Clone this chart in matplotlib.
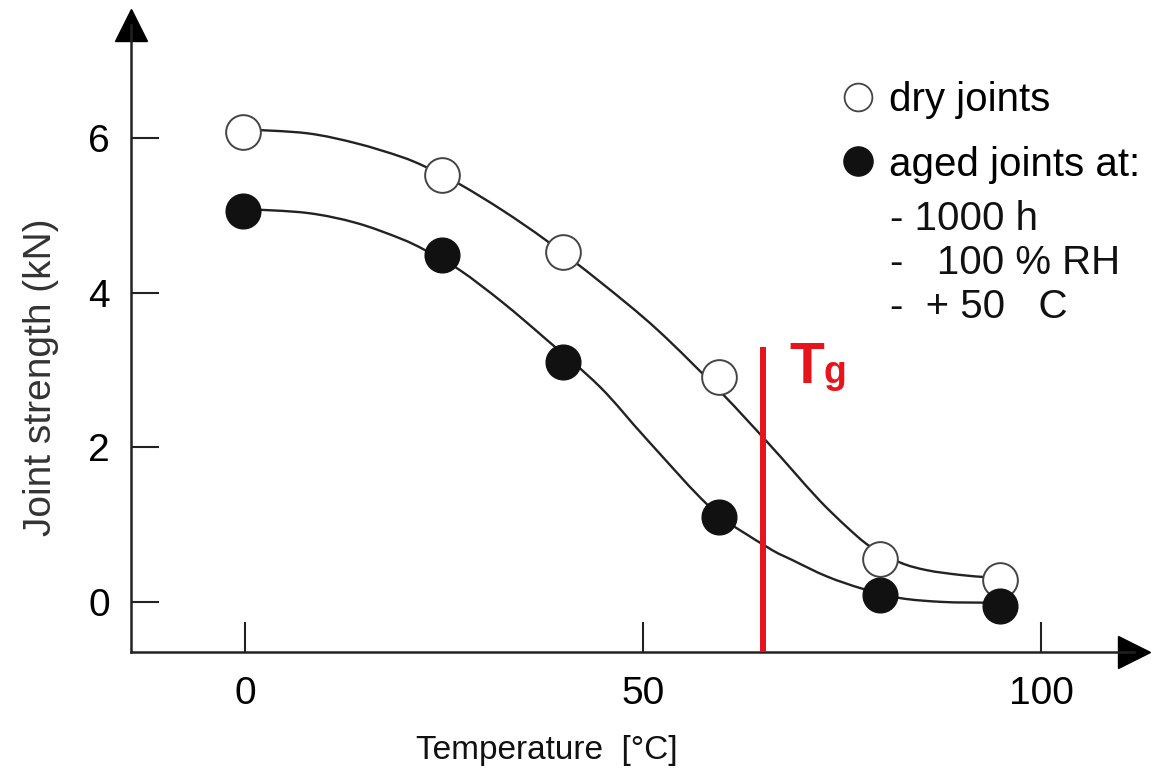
import matplotlib
matplotlib.use("Agg")
import numpy as np
import matplotlib.pyplot as plt
from matplotlib.lines import Line2D
from matplotlib.path import Path
from matplotlib.patches import PathPatch

plt.rcParams['font.family'] = ['Liberation Sans', 'DejaVu Sans']

# --- measured points ---
temp = [-0.3, 24.8, 40.0, 59.5, 79.8, 94.8]
dry_strength = [6.08, 5.52, 4.53, 2.91, 0.56, 0.28]
aged_strength = [5.05, 4.49, 3.10, 1.10, 0.09, -0.05]

# --- fitted curves ---
dry_curve_x = [0, 7.8, 14.0, 19.5, 22.6, 27.0, 32.4, 37.9, 44.6, 51.8, 59.7,
               65.5, 68.8, 72.2, 75.6, 78.5, 82.3, 85.7, 89.8, 93.2, 95.0]
dry_curve_y = [6.11, 6.06, 5.93, 5.76, 5.63, 5.40, 5.06, 4.67, 4.14, 3.52, 2.72,
               2.08, 1.70, 1.31, 0.97, 0.72, 0.51, 0.41, 0.35, 0.32, 0.31]
aged_curve_x = [0, 7.8, 14.0, 19.5, 22.6, 27.0, 32.4, 37.9, 44.6, 50.5, 58.8,
                65.6, 68.8, 73.1, 77.6, 82.3, 87.7, 93.2, 95.0]
aged_curve_y = [5.08, 5.03, 4.90, 4.70, 4.55, 4.29, 3.87, 3.39, 2.78, 2.10, 1.19,
                0.71, 0.54, 0.33, 0.17, 0.05, 0.00, -0.01, -0.02]

tg_temp = 65.1
tg_top = 3.3

x_ticks = [0, 50, 100]
y_ticks = [0, 2, 4, 6]

RED = '#e8141c'
INK = '#222222'


def smooth_path(xs, ys):
    # draw a smooth line through the read points (Catmull-Rom as Bezier)
    pts = np.column_stack([xs, ys])
    verts = [pts[0]]
    codes = [Path.MOVETO]
    n = len(pts)
    for i in range(n - 1):
        p0 = pts[i - 1] if i > 0 else pts[i]
        p1, p2 = pts[i], pts[i + 1]
        p3 = pts[i + 2] if i + 2 < n else pts[i + 1]
        verts += [p1 + (p2 - p0) / 6, p2 - (p3 - p1) / 6, p2]
        codes += [Path.CURVE4] * 3
    return Path(verts, codes)


W, H = 1159, 770
fig = plt.figure(figsize=(W / 100, H / 100), dpi=100)
ax = fig.add_axes([131 / W, 1 - 652 / H, (1134 - 131) / W, (652 - 25) / H])
ax.set_xlim(-14.32, 111.68)
ax.set_ylim(-0.647, 7.46)

for s in ['top', 'right']:
    ax.spines[s].set_visible(False)
for s in ['left', 'bottom']:
    ax.spines[s].set_linewidth(1.8)
    ax.spines[s].set_color(INK)

# arrow heads on the axes
ax.plot(1, 0, marker='>', ms=23, color='black', transform=ax.transAxes, clip_on=False)
ax.plot(0, 1, marker='^', ms=23, color='black', transform=ax.transAxes, clip_on=False)

ax.set_xticks(x_ticks)
ax.set_yticks(y_ticks)
ax.tick_params(axis='x', direction='in', length=21.5, width=1.5, color=INK,
               labelsize=28, pad=17)
ax.tick_params(axis='y', direction='in', length=20, width=1.5, color=INK,
               labelsize=28, pad=15)

# curves + points
for cx, cy in [(dry_curve_x, dry_curve_y), (aged_curve_x, aged_curve_y)]:
    ax.add_patch(PathPatch(smooth_path(cx, cy), fill=False, ec=INK, lw=1.7,
                           capstyle='round', zorder=2))
ax.plot(temp, dry_strength, ls='none', marker='o', ms=25, mfc='white',
        mec='#444444', mew=1.4, zorder=3)
ax.plot(temp, aged_strength, ls='none', marker='o', ms=25, mfc='#111111',
        mec='#111111', zorder=3)

# Tg line
ax.vlines(tg_temp, ax.get_ylim()[0], tg_top, color=RED, lw=4.3, zorder=4)
ax.text(68.4, 2.83, 'T', color=RED, fontsize=41, fontweight='bold', va='baseline')
ax.text(72.7, 2.83, 'g', color=RED, fontsize=27, fontweight='bold', va='baseline')

ax.set_ylabel('Joint strength (kN)', fontsize=28, color='#333333', va='center')
ax.yaxis.set_label_coords(-0.0897, 0.4386)
ax.set_xlabel('Temperature  [°C]', fontsize=24, color='#111111', va='center')
ax.xaxis.set_label_coords(0.4148, -0.1563)

handles = [
    Line2D([], [], ls='none', marker='o', ms=20, mfc='white', mec='#444444', mew=1.3),
    Line2D([], [], ls='none', marker='o', ms=21, mfc='#111111', mec='#111111'),
]
ax.legend(handles, ['dry joints', 'aged joints at:'], loc='upper left',
          bbox_to_anchor=(843 / W, 1 - 81 / H), bbox_transform=fig.transFigure,
          frameon=False, fontsize=29, handlelength=0.75, handletextpad=0.38,
          labelspacing=0.66, borderpad=0, borderaxespad=0)
fig.text(890 / W, 1 - 200 / H, '- 1000 h\n-   100 % RH\n-  + 50   C',
         fontsize=29, va='top', ha='left', linespacing=1.2, color='#111111')

fig.savefig('out.png', dpi=100)
